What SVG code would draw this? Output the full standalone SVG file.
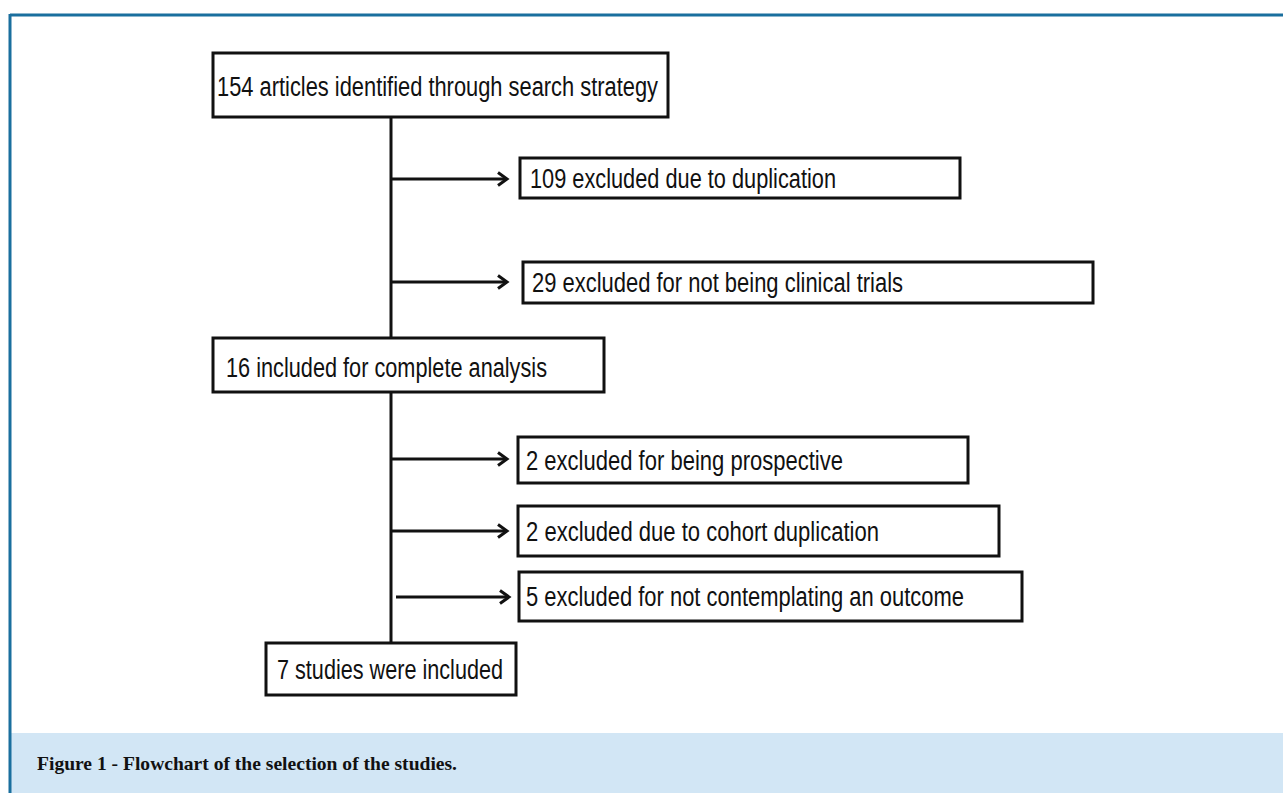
<svg xmlns="http://www.w3.org/2000/svg" width="1283" height="793" viewBox="0 0 1283 793">
<defs>
<style>
.box{fill:#fff;stroke:#111;stroke-width:3}
.t{font-family:"Liberation Sans Narrow","Liberation Sans",Arial,sans-serif;font-size:27px;fill:#111}
.ln{stroke:#111;stroke-width:3;fill:none}
.cap{font-family:"Liberation Serif","Times New Roman",serif;font-weight:bold;font-size:19px;fill:#111}
</style>
<marker id="ah" markerWidth="16" markerHeight="16" refX="13" refY="8" orient="auto" markerUnits="userSpaceOnUse">
<path d="M4,1.5 L13,8 L4,14.5" fill="none" stroke="#111" stroke-width="3"/>
</marker>
</defs>
<rect x="0" y="0" width="1283" height="793" fill="#fff"/>
<g id="frame">
<rect x="10" y="733" width="1273" height="60" fill="#d2e6f5"/>
<line x1="10" y1="15" x2="1283" y2="15" stroke="#1a6f9e" stroke-width="3"/>
<line x1="10" y1="14" x2="10" y2="793" stroke="#1a6f9e" stroke-width="3"/>
<text class="cap" x="37" y="770" textLength="420" lengthAdjust="spacingAndGlyphs">Figure 1 - Flowchart of the selection of the studies.</text>
</g>
<g id="connectors">
<line class="ln" x1="391" y1="117" x2="391" y2="338"/>
<line class="ln" x1="391" y1="392" x2="391" y2="643"/>
<line class="ln" x1="391" y1="179" x2="507" y2="179" marker-end="url(#ah)"/>
<line class="ln" x1="391" y1="282" x2="507" y2="282" marker-end="url(#ah)"/>
<line class="ln" x1="391" y1="459" x2="507" y2="459" marker-end="url(#ah)"/>
<line class="ln" x1="391" y1="531" x2="507" y2="531" marker-end="url(#ah)"/>
<line class="ln" x1="396" y1="597" x2="509" y2="597" marker-end="url(#ah)"/>
</g>
<g id="n1">
<rect class="box" x="213" y="53" width="455" height="64"/>
<text class="t" x="217" y="96" textLength="441" lengthAdjust="spacingAndGlyphs">154 articles identified through search strategy</text>
</g>
<g id="n2">
<rect class="box" x="520" y="158" width="440" height="40"/>
<text class="t" x="530" y="188" textLength="306" lengthAdjust="spacingAndGlyphs">109 excluded due to duplication</text>
</g>
<g id="n3">
<rect class="box" x="523" y="262" width="570" height="41"/>
<text class="t" x="532" y="292" textLength="371" lengthAdjust="spacingAndGlyphs">29 excluded for not being clinical trials</text>
</g>
<g id="n4">
<rect class="box" x="213" y="338" width="391" height="54"/>
<text class="t" x="226" y="377" textLength="321" lengthAdjust="spacingAndGlyphs">16 included for complete analysis</text>
</g>
<g id="n5">
<rect class="box" x="518" y="437" width="450" height="46"/>
<text class="t" x="526" y="470" textLength="317" lengthAdjust="spacingAndGlyphs">2 excluded for being prospective</text>
</g>
<g id="n6">
<rect class="box" x="518" y="506" width="481" height="50"/>
<text class="t" x="526" y="541" textLength="353" lengthAdjust="spacingAndGlyphs">2 excluded due to cohort duplication</text>
</g>
<g id="n7">
<rect class="box" x="519" y="572" width="503" height="49"/>
<text class="t" x="526" y="606" textLength="438" lengthAdjust="spacingAndGlyphs">5 excluded for not contemplating an outcome</text>
</g>
<g id="n8">
<rect class="box" x="266" y="643" width="250" height="52"/>
<text class="t" x="277" y="679" textLength="226" lengthAdjust="spacingAndGlyphs">7 studies were included</text>
</g>
</svg>
